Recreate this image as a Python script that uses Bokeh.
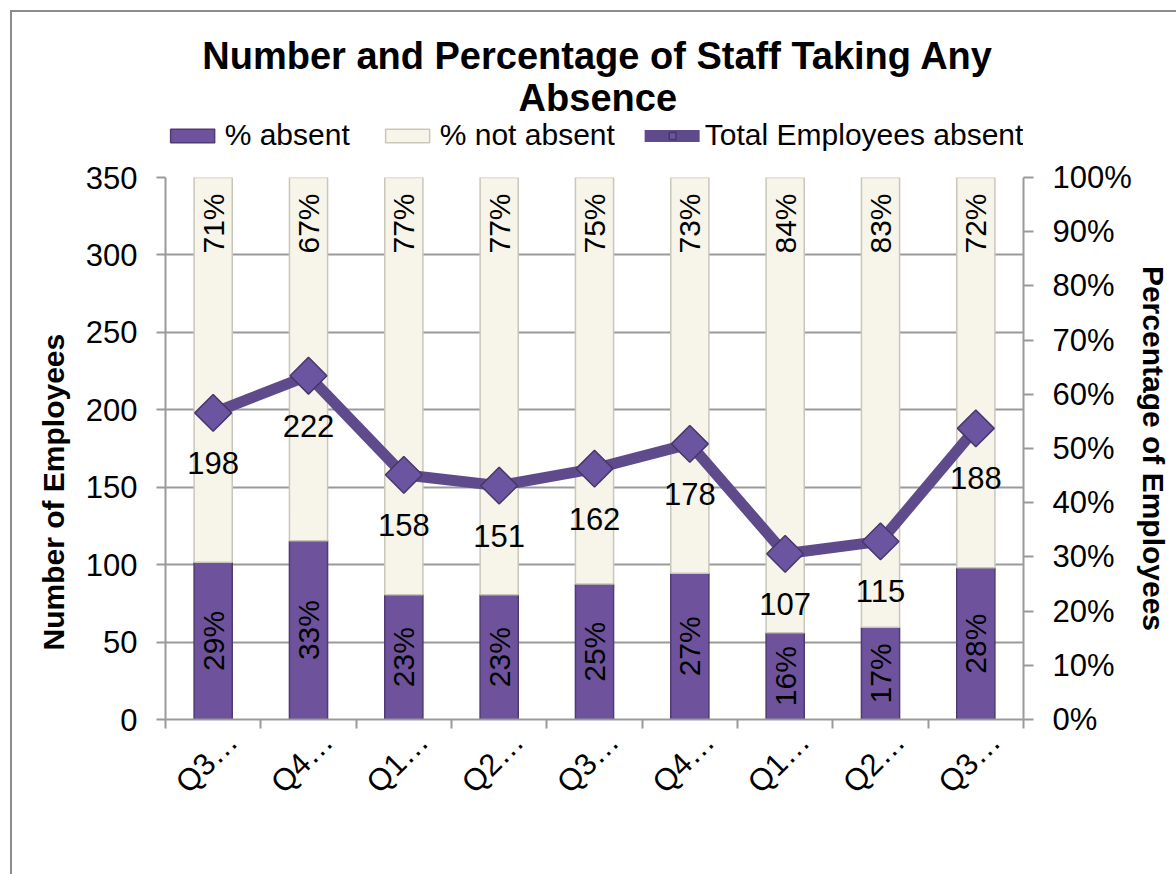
import math
from bokeh.plotting import figure
from bokeh.layouts import column
from bokeh.models import (Range1d, LinearAxis, FixedTicker, Legend, LegendItem,
                          ColumnDataSource, Title)
from bokeh.core.properties import value
from bokeh.embed import file_html
from bokeh.resources import INLINE

# ---- data ----
quarters = ["Q3…", "Q4…", "Q1…", "Q2…", "Q3…", "Q4…", "Q1…", "Q2…", "Q3…"]
pct_absent = [29, 33, 23, 23, 25, 27, 16, 17, 28]
pct_not_absent = [71, 67, 77, 77, 75, 73, 84, 83, 72]
total_absent = [198, 222, 158, 151, 162, 178, 107, 115, 188]
left_ticks = [0, 50, 100, 150, 200, 250, 300, 350]
right_ticks = [0, 10, 20, 30, 40, 50, 60, 70, 80, 90, 100]
title_lines = ["Number and Percentage of Staff Taking Any", "Absence"]
series_names = ["% absent", "% not absent", "Total Employees absent"]
left_title = "Number of Employees"
right_title = "Percentage of Employees"

FONT = "Liberation Sans"
PURPLE = "#6e539c"
PURPLE_EDGE = "#4f3b73"
CREAM = "#f7f5ea"
CREAM_EDGE = "#c9c7b9"
LINE = "#5f4a8c"
MARK_FILL = "#6c55a0"
MARK_EDGE = "#47366a"
AX = "#9a9a9a"

n = len(quarters)
xpos = [i + 0.5 for i in range(n)]

src = ColumnDataSource(dict(
    x=xpos,
    absent=pct_absent,
    cum=[a + b for a, b in zip(pct_absent, pct_not_absent)],
    absent_mid=[a / 2 for a in pct_absent],
    absent_lbl=[f"{v}%" for v in pct_absent],
    not_lbl=[f"{v}%" for v in pct_not_absent],
    total=total_absent,
    total_lbl=[str(v) for v in total_absent],
))

# ---------------- header: title + legend ----------------
HW, HH = 1164, 145
hdr = figure(width=HW, height=HH, x_range=Range1d(0, HW), y_range=Range1d(0, HH),
             output_backend="svg", toolbar_location=None, title=None,
             x_axis_location=None, y_axis_location=None, min_border=0)
hdr.grid.visible = False
hdr.outline_line_color = None
hdr.text(x=[586.5, 586.5], y=[102, 60], text=title_lines,
         text_align="center", text_baseline="middle",
         text_font=value(FONT), text_font_size="38px", text_font_style="bold",
         text_color="black")
# legend proxies (kept outside the visible header range)
lg_abs = hdr.vbar(x=[-500], top=[0], width=1, fill_color=PURPLE, line_color=PURPLE_EDGE, line_width=1.5)
lg_not = hdr.vbar(x=[-500], top=[0], width=1, fill_color=CREAM, line_color=CREAM_EDGE, line_width=1.5)
lg_line = hdr.line(x=[-500, -499], y=[0, 0], line_color=LINE, line_width=12, line_cap="round")
lg_pts = hdr.scatter(x=[-500], y=[0], marker="square", angle=math.pi / 4, size=20,
                     fill_color=MARK_FILL, line_color=MARK_EDGE, line_width=1.5)
legend = Legend(items=[LegendItem(label=series_names[0], renderers=[lg_abs]),
                       LegendItem(label=series_names[1], renderers=[lg_not]),
                       LegendItem(label=series_names[2], renderers=[lg_line, lg_pts])],
                orientation="horizontal", location="bottom_center",
                padding=0, margin=5, spacing=30, label_standoff=5,
                glyph_width=55, glyph_height=17,
                label_text_font=FONT, label_text_font_size="30px", label_text_color="black",
                background_fill_alpha=0, border_line_alpha=0)
hdr.add_layout(legend)

# ---------------- main chart ----------------
p = figure(width=1164, height=717, x_range=Range1d(0, n), y_range=Range1d(0, 350),
           output_backend="svg", toolbar_location=None, title=None,
           min_border_left=153, min_border_right=153, min_border_top=20, min_border_bottom=155)
p.extra_y_ranges = {"pct": Range1d(0, 100)}
p.outline_line_color = None
p.background_fill_color = "white"

# x axis
shift = 0.2
lbl_ticks = [x + shift for x in xpos]
p.xaxis.ticker = FixedTicker(ticks=lbl_ticks, minor_ticks=list(range(n + 1)))
p.xaxis.major_label_overrides = {t: q for t, q in zip(lbl_ticks, quarters)}
p.xaxis.major_label_orientation = math.pi / 4
p.xaxis.major_tick_out = 0
p.xaxis.major_tick_in = 0
p.xaxis.minor_tick_out = 9
p.xaxis.minor_tick_in = 0
p.xaxis.minor_tick_line_color = AX
p.xaxis.minor_tick_line_width = 2
p.xaxis.axis_line_color = AX
p.xaxis.axis_line_width = 2
p.xaxis.major_label_text_font = FONT
p.xaxis.major_label_text_font_size = "31px"
p.xaxis.major_label_text_color = "black"
p.xaxis.major_label_standoff = 8
p.xgrid.visible = False

# left axis
p.yaxis.ticker = FixedTicker(ticks=left_ticks)
p.yaxis.major_tick_out = 9
p.yaxis.major_tick_in = 0
p.yaxis.minor_tick_out = 0
p.yaxis.minor_tick_in = 0
p.yaxis.major_tick_line_color = AX
p.yaxis.major_tick_line_width = 2
p.yaxis.axis_line_color = AX
p.yaxis.axis_line_width = 2
p.yaxis.major_label_text_font = FONT
p.yaxis.major_label_text_font_size = "31px"
p.yaxis.major_label_text_color = "black"
p.yaxis.major_label_standoff = 19
p.ygrid.ticker = FixedTicker(ticks=left_ticks)
p.ygrid.grid_line_color = AX
p.ygrid.grid_line_width = 2

# left axis title (placed as a side title so it can sit lower, as in the original)
lt = Title(text=left_title, align="left", offset=69, standoff=26,
           text_font=FONT, text_font_size="30px", text_font_style="bold", text_color="black")
p.add_layout(lt, "left")

# right axis
ra = LinearAxis(y_range_name="pct", ticker=FixedTicker(ticks=right_ticks))
ra.major_label_overrides = {t: f"{t}%" for t in right_ticks}
ra.major_tick_out = 10
ra.major_tick_in = 0
ra.minor_tick_out = 0
ra.minor_tick_in = 0
ra.major_tick_line_color = AX
ra.major_tick_line_width = 2
ra.axis_line_color = AX
ra.axis_line_width = 2
ra.major_label_text_font = FONT
ra.major_label_text_font_size = "31px"
ra.major_label_text_color = "black"
ra.major_label_standoff = 19
ra.axis_label = right_title
ra.axis_label_text_font = FONT
ra.axis_label_text_font_size = "30px"
ra.axis_label_text_font_style = "bold"
ra.axis_label_text_color = "black"
ra.axis_label_standoff = 2
p.add_layout(ra, "right")

# bars
p.vbar(x="x", width=0.4, bottom=0, top="absent", source=src, y_range_name="pct",
       fill_color=PURPLE, line_color=PURPLE_EDGE, line_width=1.5)
p.vbar(x="x", width=0.4, bottom="absent", top="cum", source=src, y_range_name="pct",
       fill_color=CREAM, line_color=CREAM_EDGE, line_width=1.5)

p.text(x="x", y="absent_mid", text="absent_lbl", source=src, y_range_name="pct",
       angle=math.pi / 2, text_align="center", text_baseline="middle",
       text_font=value(FONT), text_font_size="30px", text_color="black")
p.text(x="x", y="cum", text="not_lbl", source=src, y_range_name="pct",
       angle=math.pi / 2, text_align="right", text_baseline="middle", y_offset=16,
       text_font=value(FONT), text_font_size="30px", text_color="black")

# line
p.line(x="x", y="total", source=src, line_color=LINE, line_width=11, line_join="round")
p.scatter(x="x", y="total", source=src, marker="square", angle=math.pi / 4, size=26,
          fill_color=MARK_FILL, line_color=MARK_EDGE, line_width=1.5)
p.text(x="x", y="total", text="total_lbl", source=src, y_offset=50,
       text_align="center", text_baseline="middle",
       text_font=value(FONT), text_font_size="31px", text_color="black")

lay = column(hdr, p, spacing=0)
lay.styles = {"border-left": "2px solid #8c8c8c", "border-top": "2px solid #8c8c8c",
              "margin-left": "10px", "margin-top": "10px"}

open("out.html", "w").write(file_html(lay, INLINE))
